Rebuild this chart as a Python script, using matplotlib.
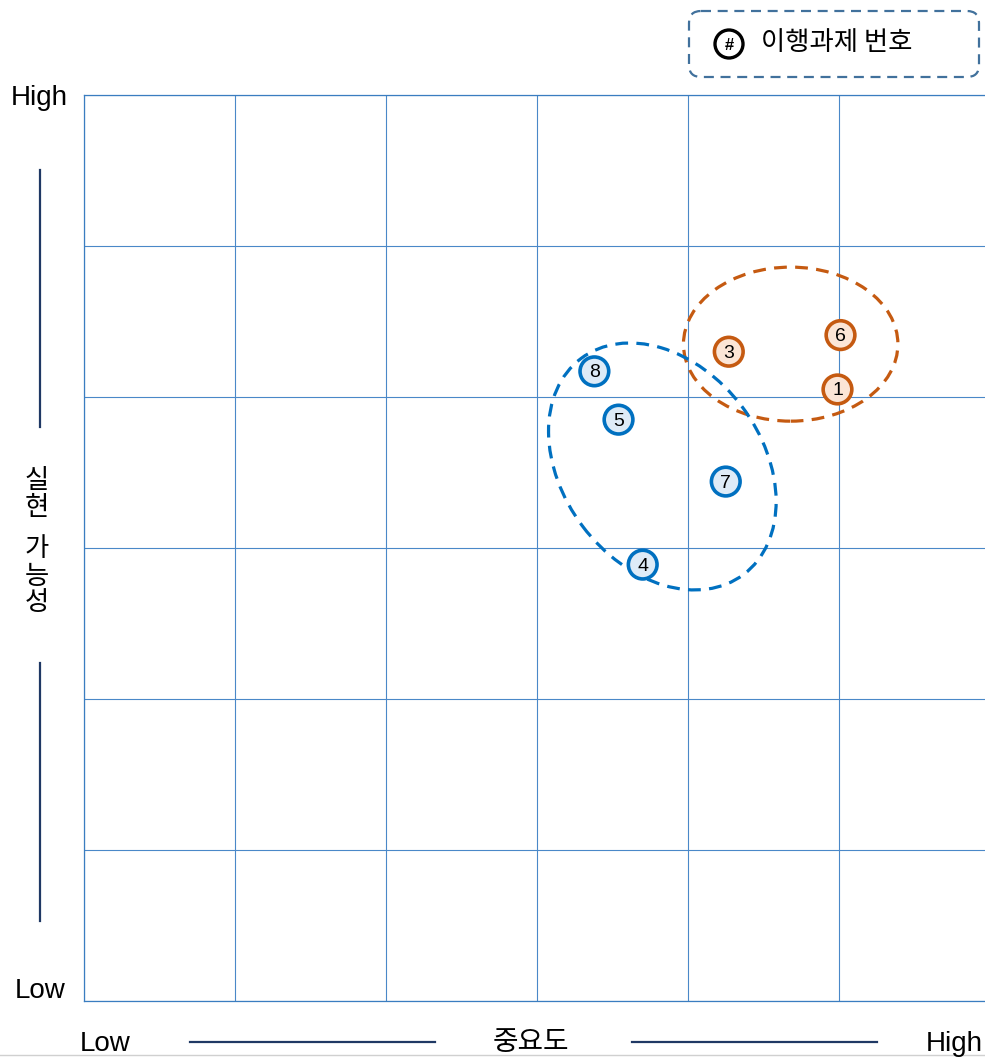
import matplotlib
matplotlib.use('Agg')
import matplotlib.pyplot as plt
from matplotlib.patches import Circle, Ellipse, FancyBboxPatch

plt.rcParams['font.family'] = ['Liberation Sans', 'Noto Sans CJK KR', 'DejaVu Sans']

# task number, importance (x), feasibility (y), group
task_ids = ['1', '3', '6', '4', '5', '7', '8']
importance = [4.99, 4.27, 5.01, 3.70, 3.54, 4.25, 3.38]
feasibility = [4.05, 4.30, 4.41, 2.89, 3.85, 3.44, 4.17]
groups = ['high', 'high', 'high', 'mid', 'mid', 'mid', 'mid']

# group ellipses: center x, center y, width, height, angle
ell_center_x = [4.68, 3.83]
ell_center_y = [4.35, 3.54]
ell_width = [1.42, 1.79]
ell_height = [1.02, 1.32]
ell_angle = [0, -53]
ell_groups = ['high', 'mid']

EDGE = {'high': '#C55A11', 'mid': '#0070C0'}
FILL = {'high': '#FBE5D6', 'mid': '#DEEBF7'}
KR = ['Noto Sans CJK KR']

W, H = 985, 1058
FIG = plt.figure(figsize=(W / 100, H / 100), dpi=100)

ax = FIG.add_axes([84 / W, (H - 1001) / H, 906 / W, 906 / H])
ax.set_xlim(0, 6)
ax.set_ylim(0, 6)
ax.set_xticks(range(7))
ax.set_yticks(range(7))
ax.tick_params(length=0, labelbottom=False, labelleft=False)
ax.grid(color='#4A88C8', lw=0.8)
for s in ax.spines.values():
    s.set_color('#3A7DC0')
    s.set_linewidth(0.9)
ax.set_axisbelow(True)

for cx, cy, w, h, a, g in zip(ell_center_x, ell_center_y, ell_width, ell_height, ell_angle, ell_groups):
    ax.add_patch(Ellipse((cx, cy), w, h, angle=a, fill=False, ec=EDGE[g],
                         lw=2.3, ls=(0, (4, 2.6)), zorder=3))

for t, x, y, g in zip(task_ids, importance, feasibility, groups):
    ax.add_patch(Circle((x, y), 0.095, fc=FILL[g], ec=EDGE[g], lw=2.6, zorder=4))
    ax.text(x, y - 0.01, t, ha='center', va='center', fontsize=14, zorder=5)

# overlay in pixel coordinates for labels and legend
ov = FIG.add_axes([0, 0, 1, 1], facecolor='none')
ov.set_xlim(0, W)
ov.set_ylim(H, 0)
ov.axis('off')

ov.text(39, 98, 'High', ha='center', va='center', fontsize=20)
ov.text(40, 991, 'Low', ha='center', va='center', fontsize=20)
ov.plot([40, 40], [170, 427], color='#1F3864', lw=1.6)
ov.plot([40, 40], [663, 921], color='#1F3864', lw=1.6)
ov.text(37, 494, '실\n현', ha='center', va='center', fontsize=19,
        linespacing=1.0, family=KR)
ov.text(37, 576, '가\n능\n성', ha='center', va='center', fontsize=19,
        linespacing=1.0, family=KR)

ov.text(105, 1044, 'Low', ha='center', va='center', fontsize=20)
ov.text(531, 1042, '중요도', ha='center', va='center', fontsize=20, family=KR)
ov.text(983, 1044, 'High', ha='right', va='center', fontsize=20)
ov.plot([190, 435], [1042, 1042], color='#1F3864', lw=1.6)
ov.plot([632, 877], [1042, 1042], color='#1F3864', lw=1.6)
ov.plot([0, W], [1055, 1055], color='#D0D0D0', lw=1)

# legend box
ov.add_patch(FancyBboxPatch((689, 11), 290, 66, boxstyle='round,pad=0,rounding_size=12',
                            fill=False, ec='#41719C', lw=1.6, ls=(0, (4.5, 3))))
ov.add_patch(Circle((729, 44), 14, fc='white', ec='black', lw=2.4))
ov.text(729, 45, '#', ha='center', va='center', fontsize=12, fontweight='bold')
ov.text(761, 43, '이행과제 번호', ha='left', va='center', fontsize=19, family=KR)

FIG.savefig('out.png', dpi=100)
